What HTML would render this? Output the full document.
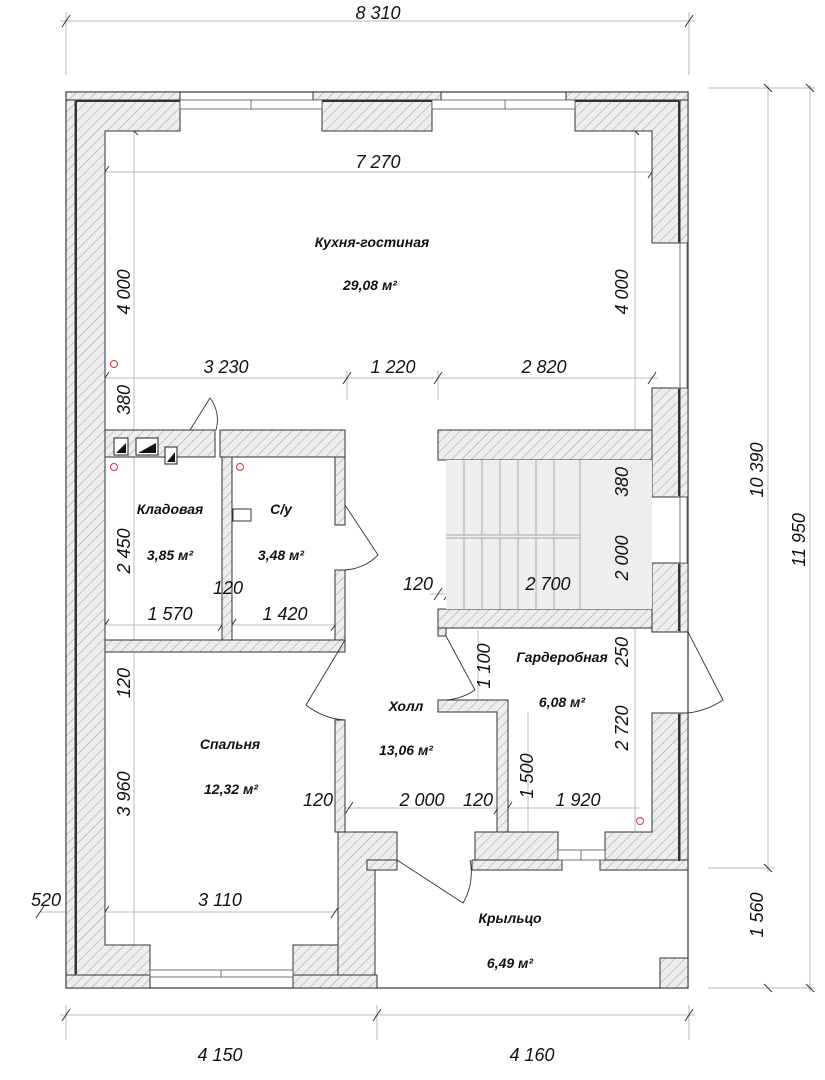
<!DOCTYPE html>
<html><head><meta charset="utf-8"><style>
body{margin:0;background:#fff}
svg{display:block}
text{font-family:"Liberation Sans Narrow","Liberation Sans",sans-serif;font-style:italic;fill:#111}
.d{font-size:18px}
.r{font-size:14px;font-weight:bold}
</style></head><body>
<svg width="825" height="1080" viewBox="0 0 825 1080" xmlns="http://www.w3.org/2000/svg">
<defs>
<pattern id="h" width="7" height="7" patternUnits="userSpaceOnUse" patternTransform="rotate(45)">
<rect width="7" height="7" fill="#eeeeee"/><line x1="0" y1="0" x2="0" y2="7" stroke="#888" stroke-width="0.8"/>
</pattern>
</defs>
<g stroke="#bbb" stroke-width="1" fill="none">
<line x1="60" y1="21" x2="695" y2="21"/><line x1="66" y1="12" x2="66" y2="75"/><line x1="689" y1="12" x2="689" y2="75"/>
<line x1="768" y1="85" x2="768" y2="872"/><line x1="810" y1="85" x2="810" y2="992"/>
<line x1="708" y1="88" x2="815" y2="88"/><line x1="708" y1="868" x2="775" y2="868"/><line x1="708" y1="988" x2="815" y2="988"/>
<line x1="60" y1="1015" x2="695" y2="1015"/><line x1="66" y1="1005" x2="66" y2="1040"/><line x1="377" y1="1005" x2="377" y2="1040"/><line x1="689" y1="1005" x2="689" y2="1040"/>
<line x1="100" y1="172" x2="658" y2="172"/><line x1="100" y1="378" x2="658" y2="378"/>
<line x1="134" y1="131" x2="134" y2="950"/><line x1="635" y1="131" x2="635" y2="835"/>
<line x1="347" y1="370" x2="347" y2="400"/><line x1="438" y1="370" x2="438" y2="400"/>
<line x1="100" y1="625" x2="345" y2="625"/>
<line x1="430" y1="594" x2="652" y2="594"/>
<line x1="340" y1="808" x2="640" y2="808"/>
<line x1="478" y1="630" x2="478" y2="700"/>
<line x1="528" y1="712" x2="528" y2="832"/>
<line x1="40" y1="912" x2="340" y2="912"/>
</g>
<g stroke="#333" stroke-width="1">
<line x1="62" y1="27" x2="70" y2="15"/><line x1="685" y1="27" x2="693" y2="15"/>
<line x1="764" y1="84" x2="772" y2="92"/><line x1="806" y1="84" x2="814" y2="92"/>
<line x1="764" y1="864" x2="772" y2="872"/><line x1="764" y1="984" x2="772" y2="992"/><line x1="806" y1="984" x2="814" y2="992"/>
<line x1="62" y1="1021" x2="70" y2="1009"/><line x1="373" y1="1021" x2="381" y2="1009"/><line x1="685" y1="1021" x2="693" y2="1009"/>
<line x1="101" y1="178" x2="109" y2="166"/><line x1="648" y1="178" x2="656" y2="166"/>
<line x1="101" y1="384" x2="109" y2="372"/><line x1="343" y1="384" x2="351" y2="372"/><line x1="434" y1="384" x2="442" y2="372"/><line x1="648" y1="384" x2="656" y2="372"/>
<line x1="130" y1="127" x2="138" y2="135"/><line x1="631" y1="127" x2="639" y2="135"/>
<line x1="101" y1="631" x2="109" y2="619"/><line x1="218" y1="631" x2="226" y2="619"/><line x1="228" y1="631" x2="236" y2="619"/><line x1="331" y1="631" x2="339" y2="619"/>
<line x1="434" y1="600" x2="442" y2="588"/><line x1="444" y1="600" x2="452" y2="588"/><line x1="648" y1="600" x2="656" y2="588"/>
<line x1="335" y1="814" x2="343" y2="802"/><line x1="345" y1="814" x2="353" y2="802"/><line x1="494" y1="814" x2="502" y2="802"/><line x1="504" y1="814" x2="512" y2="802"/>
<line x1="101" y1="918" x2="109" y2="906"/><line x1="331" y1="918" x2="339" y2="906"/>
<line x1="36" y1="918" x2="44" y2="906"/>
</g>
<rect x="66" y="92" width="622" height="896" fill="none" stroke="#333" stroke-width="1.2"/>
<g fill="url(#h)" stroke="#333" stroke-width="1">
<rect x="66" y="92" width="114" height="8"/><rect x="313" y="92" width="128" height="8"/><rect x="566" y="92" width="122" height="8"/>
<path d="M75 100 H180 V131 H105 V945 H150 V975 H75 Z"/>
<rect x="322" y="100" width="110" height="31"/>
<path d="M575 100 H680 V243 H652 V131 H575 Z"/>
<rect x="652" y="388" width="28" height="109"/>
<rect x="652" y="563" width="28" height="69"/>
<path d="M652 713 H680 V862 H605 V832 H652 Z"/>
<rect x="680" y="100" width="8" height="143"/><rect x="680" y="388" width="8" height="109"/><rect x="680" y="563" width="8" height="69"/><rect x="680" y="713" width="8" height="157"/>
<rect x="66" y="100" width="9" height="888"/>
<rect x="66" y="975" width="84" height="13"/><rect x="293" y="975" width="84" height="13"/>
<rect x="293" y="945" width="45" height="30"/>
<path d="M338 832 H397 V860 H375 V975 H338 Z"/>
<rect x="367" y="860" width="30" height="10"/>
<rect x="475" y="832" width="83" height="28"/>
<rect x="472" y="860" width="90" height="10"/><rect x="600" y="860" width="88" height="10"/>
<rect x="105" y="430" width="110" height="27"/>
<rect x="220" y="430" width="125" height="27"/>
<rect x="335" y="457" width="10" height="68"/>
<rect x="335" y="570" width="10" height="70"/>
<rect x="222" y="457" width="10" height="183"/>
<rect x="105" y="640" width="240" height="12"/>
<rect x="335" y="720" width="10" height="112"/>
<rect x="438" y="430" width="214" height="30"/>
<rect x="438" y="609" width="214" height="19"/>
<rect x="438" y="628" width="8" height="8"/>
<path d="M438 700 H508 V832 H497 V712 H438 Z"/>
<rect x="660" y="958" width="28" height="30"/>
</g>
<!-- dark inner face lines of outer walls -->
<g stroke="#333" stroke-width="2" fill="none">
<path d="M76 101 V974"/><path d="M679 101 V242 M679 389 V496 M679 564 V631 M679 714 V861"/>
<path d="M76 101 H180 M575 101 H679 M322 101 H432"/>
</g>
<g fill="#fff" stroke="#555" stroke-width="0.8">
<rect x="180" y="100" width="142" height="9"/><rect x="432" y="100" width="143" height="9"/>
<rect x="680" y="243" width="7" height="145"/><rect x="680" y="497" width="7" height="66"/>
<rect x="150" y="970" width="143" height="7"/><rect x="558" y="850" width="47" height="10"/>
</g>
<g stroke="#555" stroke-width="0.8"><line x1="251" y1="100" x2="251" y2="109"/><line x1="505" y1="100" x2="505" y2="109"/><line x1="221" y1="970" x2="221" y2="977"/><line x1="581" y1="850" x2="581" y2="860"/></g>
<rect x="446" y="460" width="206" height="149" fill="#eeeeee"/>
<g stroke="#aaa" stroke-width="1">
<line x1="446" y1="535" x2="580" y2="535"/><line x1="446" y1="538" x2="580" y2="538"/>
<line x1="580" y1="460" x2="580" y2="609"/>
<line x1="464" y1="460" x2="464" y2="535"/><line x1="482" y1="460" x2="482" y2="535"/><line x1="500" y1="460" x2="500" y2="535"/><line x1="518" y1="460" x2="518" y2="535"/><line x1="536" y1="460" x2="536" y2="535"/><line x1="554" y1="460" x2="554" y2="535"/>
<line x1="464" y1="538" x2="464" y2="609"/><line x1="482" y1="538" x2="482" y2="609"/><line x1="500" y1="538" x2="500" y2="609"/><line x1="518" y1="538" x2="518" y2="609"/><line x1="536" y1="538" x2="536" y2="609"/><line x1="554" y1="538" x2="554" y2="609"/>
</g>
<g fill="#fff" stroke="#222" stroke-width="1">
<rect x="114" y="438" width="14" height="17"/><rect x="136" y="438" width="22" height="17"/><rect x="165" y="447" width="12" height="17"/>
</g>
<g fill="#111"><path d="M116 453 L126 443 V453 Z"/><path d="M138 453 L156 443 V453 Z"/><path d="M167 462 L175 452 V462 Z"/></g>
<rect x="233" y="509" width="18" height="12" fill="#fff" stroke="#333"/>
<g fill="none" stroke="#333" stroke-width="0.9">
<path d="M190 430 L210 398 A36 36 0 0 1 216 430"/>
<path d="M345 505 L378 555 A50 50 0 0 1 345 570"/>
<path d="M345 640 L306 705 A70 70 0 0 0 345 720"/>
<path d="M446 636 L475 690 A60 60 0 0 1 446 700"/>
<path d="M397 860 L463 903 A60 60 0 0 0 470 860"/>
<path d="M688 632 L723 700 A80 80 0 0 1 688 713"/>
</g>
<g fill="none" stroke="#d33" stroke-width="1"><circle cx="114" cy="364" r="3.5"/><circle cx="114" cy="467" r="3.5"/><circle cx="240" cy="467" r="3.5"/><circle cx="640" cy="821" r="3.5"/></g>
<text class="d" x="378" y="19" text-anchor="middle">8 310</text>
<text class="d" x="378" y="168" text-anchor="middle">7 270</text>
<text class="d" x="226" y="373" text-anchor="middle">3 230</text>
<text class="d" x="393" y="373" text-anchor="middle">1 220</text>
<text class="d" x="544" y="373" text-anchor="middle">2 820</text>
<text class="d" x="170" y="620" text-anchor="middle">1 570</text>
<text class="d" x="285" y="620" text-anchor="middle">1 420</text>
<text class="d" x="228" y="594" text-anchor="middle">120</text>
<text class="d" x="418" y="590" text-anchor="middle">120</text>
<text class="d" x="548" y="590" text-anchor="middle">2 700</text>
<text class="d" x="318" y="806" text-anchor="middle">120</text>
<text class="d" x="422" y="806" text-anchor="middle">2 000</text>
<text class="d" x="478" y="806" text-anchor="middle">120</text>
<text class="d" x="578" y="806" text-anchor="middle">1 920</text>
<text class="d" x="220" y="906" text-anchor="middle">3 110</text>
<text class="d" x="46" y="906" text-anchor="middle">520</text>
<text class="d" x="220" y="1061" text-anchor="middle">4 150</text>
<text class="d" x="532" y="1061" text-anchor="middle">4 160</text>
<text class="d" transform="translate(130,292) rotate(-90)" text-anchor="middle">4 000</text>
<text class="d" transform="translate(628,292) rotate(-90)" text-anchor="middle">4 000</text>
<text class="d" transform="translate(130,400) rotate(-90)" text-anchor="middle">380</text>
<text class="d" transform="translate(130,551) rotate(-90)" text-anchor="middle">2 450</text>
<text class="d" transform="translate(130,683) rotate(-90)" text-anchor="middle">120</text>
<text class="d" transform="translate(130,794) rotate(-90)" text-anchor="middle">3 960</text>
<text class="d" transform="translate(628,482) rotate(-90)" text-anchor="middle">380</text>
<text class="d" transform="translate(628,558) rotate(-90)" text-anchor="middle">2 000</text>
<text class="d" transform="translate(628,652) rotate(-90)" text-anchor="middle">250</text>
<text class="d" transform="translate(628,728) rotate(-90)" text-anchor="middle">2 720</text>
<text class="d" transform="translate(490,666) rotate(-90)" text-anchor="middle">1 100</text>
<text class="d" transform="translate(533,776) rotate(-90)" text-anchor="middle">1 500</text>
<text class="d" transform="translate(763,470) rotate(-90)" text-anchor="middle">10 390</text>
<text class="d" transform="translate(805,540) rotate(-90)" text-anchor="middle">11 950</text>
<text class="d" transform="translate(763,915) rotate(-90)" text-anchor="middle">1 560</text>
<text class="r" x="372" y="247" text-anchor="middle">Кухня-гостиная</text>
<text class="r" x="370" y="290" text-anchor="middle">29,08 м²</text>
<text class="r" x="170" y="514" text-anchor="middle">Кладовая</text>
<text class="r" x="170" y="560" text-anchor="middle">3,85 м²</text>
<text class="r" x="281" y="514" text-anchor="middle">С/у</text>
<text class="r" x="281" y="560" text-anchor="middle">3,48 м²</text>
<text class="r" x="562" y="662" text-anchor="middle">Гардеробная</text>
<text class="r" x="562" y="707" text-anchor="middle">6,08 м²</text>
<text class="r" x="406" y="711" text-anchor="middle">Холл</text>
<text class="r" x="406" y="755" text-anchor="middle">13,06 м²</text>
<text class="r" x="230" y="749" text-anchor="middle">Спальня</text>
<text class="r" x="231" y="794" text-anchor="middle">12,32 м²</text>
<text class="r" x="510" y="923" text-anchor="middle">Крыльцо</text>
<text class="r" x="510" y="968" text-anchor="middle">6,49 м²</text>
</svg>
</body></html>
